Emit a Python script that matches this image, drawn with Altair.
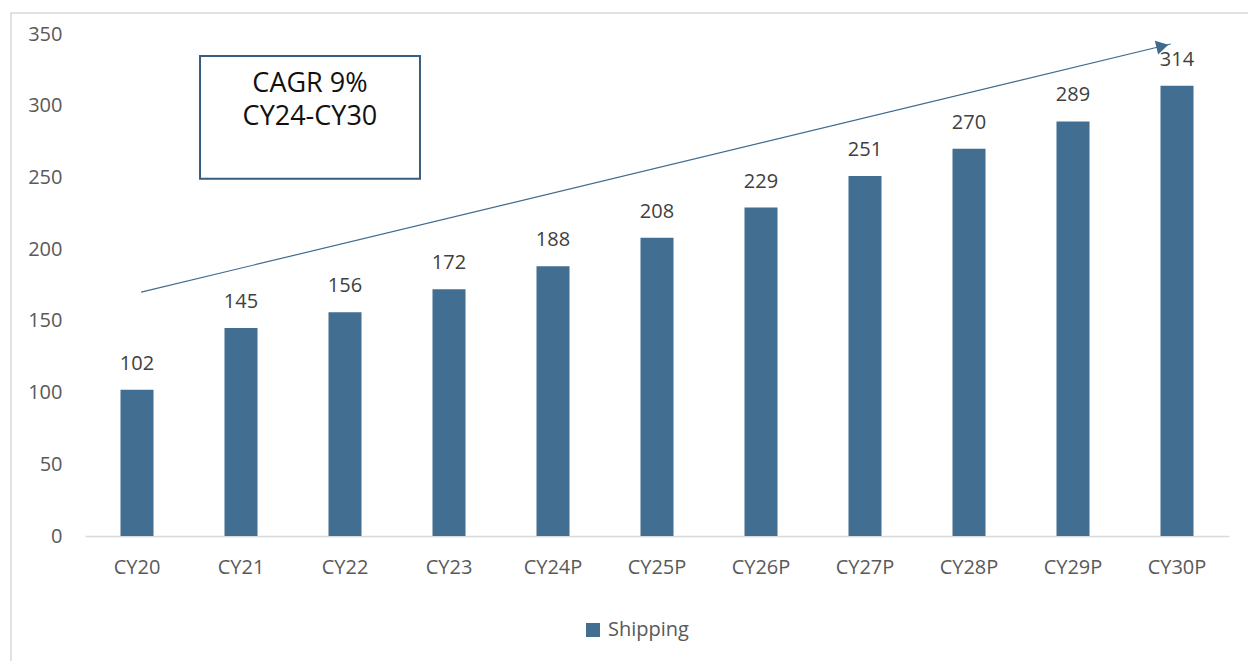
import altair as alt
import pandas as pd

# ---- data ----
categories = ["CY20", "CY21", "CY22", "CY23", "CY24P", "CY25P", "CY26P",
              "CY27P", "CY28P", "CY29P", "CY30P"]
shipping = [102, 145, 156, 172, 188, 208, 229, 251, 270, 289, 314]
series_name = "Shipping"

# annotation (in category-slot units: slot i spans [i, i+1])
arrow_x = [0.54, 10.44]
arrow_y = [170, 343]
head_x = [10.36]
head_y = [341.5]
box_x = [1.106]
box_x2 = [3.221]
box_y = [249]
box_y2 = [334.7]
box_lines = ["CAGR 9%", "CY24-CY30"]
box_text_x = [2.163]
box_text_y = [315.0]

FONT = "Open Sans"
BAR = "#416E91"

df = pd.DataFrame({"cat": categories, "value": shipping,
                   "series": [series_name] * len(categories)})

xband = alt.X("cat:N", sort=categories,
              scale=alt.Scale(paddingInner=0.683, paddingOuter=0.3415),
              axis=alt.Axis(title=None, labelAngle=0, ticks=False,
                            labelPadding=21, domainColor="#D9D9D9",
                            domainWidth=1.5, labelFontSize=20,
                            labelColor="#595959", labelFont=FONT))
yscale = alt.Scale(domain=[0, 350])
yaxis = alt.Axis(title=None, values=list(range(0, 351, 50)), ticks=False,
                 domain=False, grid=False, labelPadding=23,
                 labelFontSize=20, labelColor="#595959", labelFont=FONT)

bars = alt.Chart(df).mark_bar(size=33).encode(
    x=xband,
    y=alt.Y("value:Q", scale=yscale, axis=yaxis),
    color=alt.Color("series:N", scale=alt.Scale(range=[BAR]),
                    legend=alt.Legend(title=None, orient="none",
                                      legendX=498, legendY=586,
                                      symbolType="square", symbolSize=196,
                                      symbolStrokeWidth=0, labelFontSize=20,
                                      labelColor="#595959", labelFont=FONT,
                                      labelOffset=5)),
)
labels = alt.Chart(df).mark_text(baseline="bottom", dy=-16, fontSize=20,
                                 font=FONT, color="#404040").encode(
    x=alt.X("cat:N", sort=categories),
    y=alt.Y("value:Q", scale=yscale),
    text=alt.Text("value:Q"),
)
data_layer = alt.layer(bars, labels)

xq = alt.Scale(domain=[0, len(categories)], nice=False, zero=False)

arrow_df = pd.DataFrame({"x": arrow_x, "y": arrow_y})
arrow = alt.Chart(arrow_df).mark_line(color="#3F6A90", strokeWidth=1.2).encode(
    x=alt.X("x:Q", scale=xq, axis=None),
    y=alt.Y("y:Q", scale=yscale),
)
head_df = pd.DataFrame({"x": head_x, "y": head_y})
head = alt.Chart(head_df).mark_point(shape="triangle-right", filled=True,
                                     size=200, angle=346.5, color="#3F6A90",
                                     opacity=1).encode(
    x=alt.X("x:Q", scale=xq, axis=None),
    y=alt.Y("y:Q", scale=yscale),
)
box_df = pd.DataFrame({"x": box_x, "x2": box_x2, "y": box_y, "y2": box_y2})
box = alt.Chart(box_df).mark_rect(fill="white", stroke="#385D7E",
                                  strokeWidth=2).encode(
    x=alt.X("x:Q", scale=xq, axis=None), x2="x2:Q",
    y=alt.Y("y:Q", scale=yscale), y2="y2:Q",
)
bt_df = pd.DataFrame({"x": box_text_x, "y": box_text_y,
                      "t": ["\n".join(box_lines)]})
btext = alt.Chart(bt_df).mark_text(fontSize=27, font=FONT, color="#111111",
                                   baseline="middle", lineBreak="\n",
                                   lineHeight=33).encode(
    x=alt.X("x:Q", scale=xq, axis=None),
    y=alt.Y("y:Q", scale=yscale),
    text="t:N",
)
annot = alt.layer(arrow, head, box, btext)

frame = alt.Chart(pd.DataFrame({"a": [0]})).mark_rect(
    fill="transparent", stroke="#D9D9D9", strokeWidth=1.5).encode(
    x=alt.value(-74), x2=alt.value(1260), y=alt.value(-21), y2=alt.value(700))

chart = alt.layer(frame, data_layer, annot).resolve_scale(
    x="independent").properties(
    width=1144, height=502,
    autosize=alt.AutoSizeParams(type="none"),
    padding={"left": 85, "top": 34, "right": 19, "bottom": 125},
    background="white",
).configure_view(stroke=None)

chart.save("out.html", embed_options={"renderer": "svg", "actions": False})
